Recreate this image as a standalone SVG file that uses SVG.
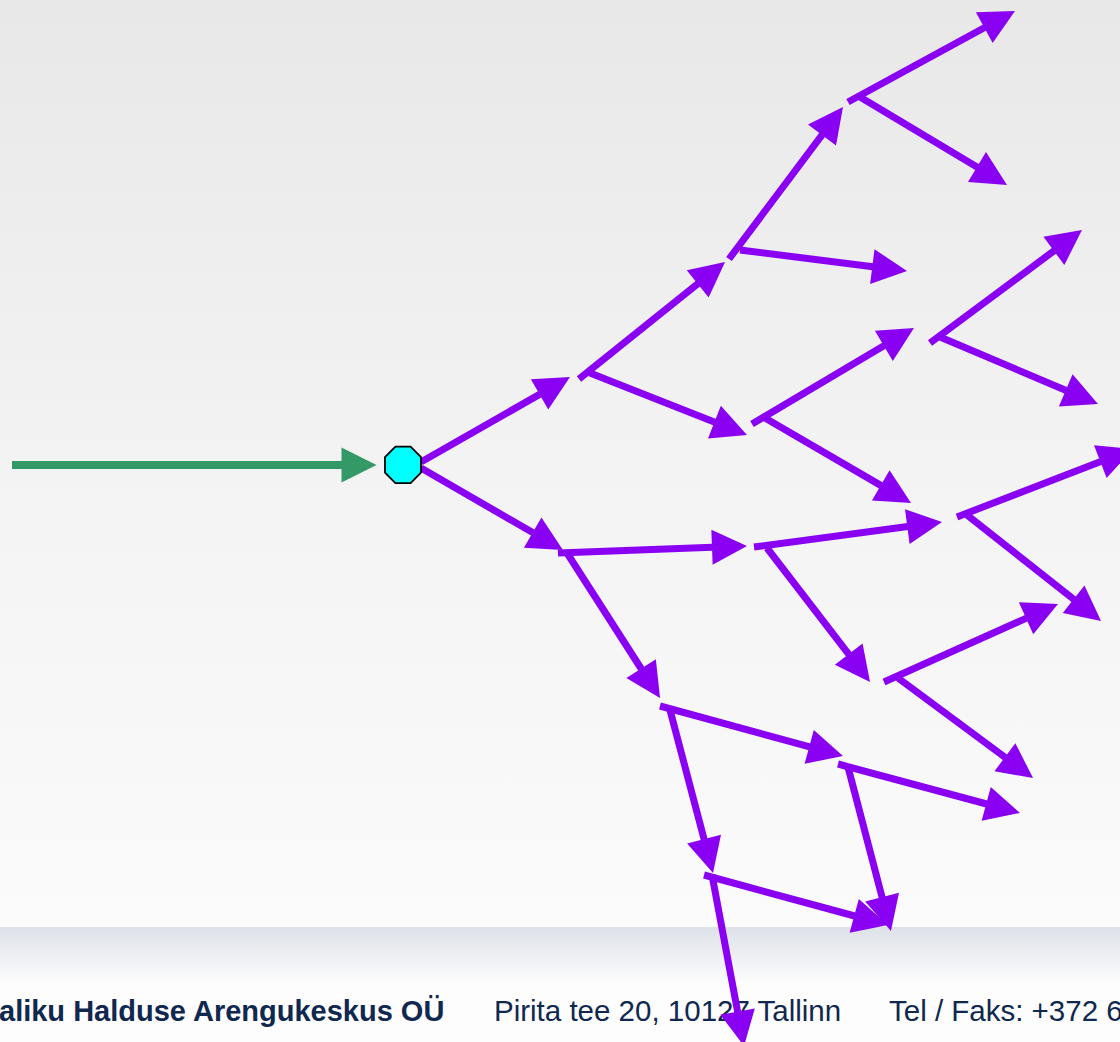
<svg xmlns="http://www.w3.org/2000/svg" width="1120" height="1042" viewBox="0 0 1120 1042">
  <style>
    .p { stroke: #8a00f2; stroke-width: 7; stroke-linecap: butt; fill: none; marker-end: url(#ph); }
    .g { stroke: #339966; stroke-width: 8; fill: none; marker-end: url(#gh); }
    .ft { font-family: "Liberation Sans", Arial, sans-serif; font-size: 29.5px; fill: #10284f; }
    .b { font-weight: bold; font-size: 29px; }
  </style>
  <defs>
    <linearGradient id="bg" x1="0" y1="0" x2="0" y2="1">
      <stop offset="0" stop-color="#e8e8e8"/>
      <stop offset="0.5" stop-color="#f3f3f3"/>
      <stop offset="1" stop-color="#fbfbfb"/>
    </linearGradient>
    <linearGradient id="band" x1="0" y1="0" x2="0" y2="1">
      <stop offset="0" stop-color="#dde1e8"/>
      <stop offset="1" stop-color="#fcfcfd"/>
    </linearGradient>
    <marker id="ph" markerUnits="userSpaceOnUse" markerWidth="36" markerHeight="36" refX="0.5" refY="17.5" orient="auto" overflow="visible">
      <path d="M0,0 L35,17.5 L0,35 Z" fill="#8a00f2"/>
    </marker>
    <marker id="gh" markerUnits="userSpaceOnUse" markerWidth="36" markerHeight="36" refX="0.5" refY="17.5" orient="auto" overflow="visible">
      <path d="M0,0 L35,17.5 L0,35 Z" fill="#339966"/>
    </marker>
  </defs>

  <g id="background">
    <rect x="0" y="0" width="1120" height="927" fill="url(#bg)"/>
    <rect x="0" y="927" width="1120" height="55" fill="url(#band)"/>
    <rect x="0" y="982" width="1120" height="60" fill="#fdfdfd"/>
  </g>

  <g id="footer">
    <text class="ft b" x="-1" y="1021">aliku Halduse Arengukeskus OÜ</text>
    <text class="ft" x="494" y="1021">Pirita tee 20, 10127 Tallinn</text>
    <text class="ft" x="889" y="1021">Tel / Faks: +372 6</text>
  </g>

  <g id="connectors">
    <line class="g" x1="12" y1="465" x2="342" y2="465"/>
    <line class="p" x1="421" y1="462" x2="540.0" y2="394.1"/>
    <line class="p" x1="421" y1="468" x2="533.1" y2="532.8"/>
    <line class="p" x1="579" y1="379" x2="698.1" y2="283.6"/>
    <line class="p" x1="590" y1="373" x2="714.9" y2="422.3"/>
    <line class="p" x1="729" y1="259" x2="822.3" y2="134.6"/>
    <line class="p" x1="740" y1="250" x2="872.8" y2="266.7"/>
    <line class="p" x1="848" y1="102" x2="984.7" y2="27.5"/>
    <line class="p" x1="860" y1="97" x2="977.4" y2="167.3"/>
    <line class="p" x1="752" y1="424" x2="884.3" y2="345.6"/>
    <line class="p" x1="765" y1="418" x2="881.2" y2="485.6"/>
    <line class="p" x1="930" y1="343" x2="1054.3" y2="250.6"/>
    <line class="p" x1="940" y1="337" x2="1066.2" y2="390.5"/>
    <line class="p" x1="558" y1="553" x2="712.5" y2="547.3"/>
    <line class="p" x1="567" y1="553" x2="641.4" y2="669.0"/>
    <line class="p" x1="754" y1="547" x2="907.8" y2="526.5"/>
    <line class="p" x1="767" y1="548" x2="849.0" y2="654.6"/>
    <line class="p" x1="957" y1="517" x2="1100.8" y2="461.4"/>
    <line class="p" x1="967" y1="515" x2="1074.0" y2="599.6"/>
    <line class="p" x1="884" y1="682" x2="1026.5" y2="618.1"/>
    <line class="p" x1="898" y1="678" x2="1005.3" y2="757.5"/>
    <line class="p" x1="660" y1="706" x2="809.7" y2="746.9"/>
    <line class="p" x1="670" y1="710" x2="704.2" y2="839.6"/>
    <line class="p" x1="838" y1="764" x2="986.7" y2="804.0"/>
    <line class="p" x1="848" y1="767" x2="882.2" y2="897.6"/>
    <line class="p" x1="704" y1="875" x2="854.7" y2="916.0"/>
    <line class="p" x1="712" y1="875" x2="737.7" y2="1012.1"/>
  </g>

  <g id="node-hub">
    <polygon points="410.6,446.7 421,457.1 421,472.6 410.6,483.2 395.4,483.2 385,472.6 385,457.1 395.4,446.7" fill="#00ffff" stroke="#000000" stroke-width="1.8"/>
  </g>
</svg>
